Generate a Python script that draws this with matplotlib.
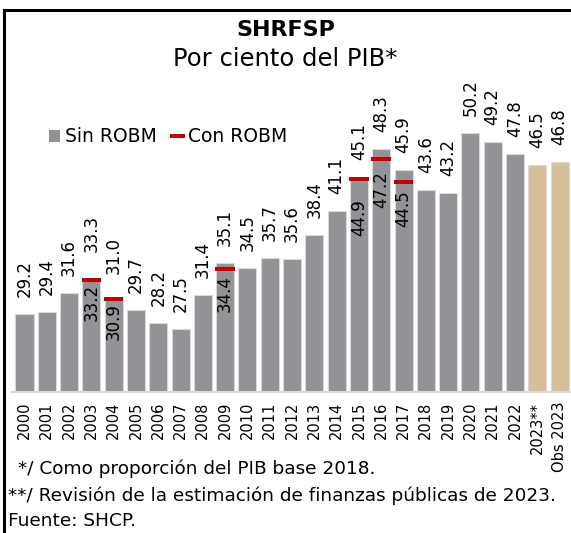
import matplotlib.pyplot as plt
from matplotlib.lines import Line2D
from matplotlib.patches import Patch

plt.rcParams['font.family'] = ['DejaVu Sans']

# Datos del SHRFSP (por ciento del PIB)
years = ['2000', '2001', '2002', '2003', '2004', '2005', '2006', '2007',
         '2008', '2009', '2010', '2011', '2012', '2013', '2014', '2015',
         '2016', '2017', '2018', '2019', '2020', '2021', '2022',
         '2023**', 'Obs 2023']
sin_robm = [29.2, 29.4, 31.6, 33.3, 31.0, 29.7, 28.2, 27.5, 31.4, 35.1,
            34.5, 35.7, 35.6, 38.4, 41.1, 45.1, 48.3, 45.9, 43.6, 43.2,
            50.2, 49.2, 47.8, 46.5, 46.8]
robm_years = ['2003', '2004', '2009', '2015', '2016', '2017']
con_robm = [33.2, 30.9, 34.4, 44.9, 47.2, 44.5]
estimate_years = ['2023**', 'Obs 2023']

GREY = '#939297'
TAN = '#d5c09b'
RED = '#c00000'
PX = 72 / 100  # one pixel in points

fig = plt.figure(figsize=(5.71, 5.33), dpi=100)
ax = fig.add_axes([12 / 571, 141 / 533, 559 / 571, 332 / 533])

x = list(range(len(years)))
colors = [TAN if y in estimate_years else GREY for y in years]
ax.bar(x, sin_robm, width=0.81, color=colors, edgecolor='#d9d9d9',
       linewidth=0.8, zorder=2)

ymin = 20.15
ax.set_ylim(ymin, ymin + 332 / 8.62)
ax.set_xlim(-0.56, 24.51)

# extra lift for a couple of labels that sit higher
extra = {'2003': 10, '2004': 7}
for i, (yr, v) in enumerate(zip(years, sin_robm)):
    ax.annotate(f'{v:.1f}', (i, v), xytext=(0, (17 + extra.get(yr, 0)) * PX),
                textcoords='offset points', rotation=90, ha='center',
                va='bottom', fontsize=12, color='black')

# con ROBM markers and their labels inside the bars
inner_gap = [2, 2, 4, 19, 10, 6]
for yr, v, gap in zip(robm_years, con_robm, inner_gap):
    i = years.index(yr)
    ax.hlines(v, i - 0.44, i + 0.44, color=RED, linewidth=2.9, zorder=3)
    ax.annotate(f'{v:.1f}', (i, v), xytext=(0, -(gap + 2) * PX),
                textcoords='offset points', rotation=90, ha='center',
                va='top', fontsize=12, color='black', zorder=4)

ax.set_xticks(x, years, rotation=90, fontsize=10.5)
ax.tick_params(axis='x', length=0, pad=7)
ax.set_yticks([])
for side in ['left', 'right', 'top']:
    ax.spines[side].set_visible(False)
ax.spines['bottom'].set_color('#d9d9d9')
ax.spines['bottom'].set_linewidth(1.5)

handles = [Patch(facecolor=GREY, edgecolor='none', label='Sin ROBM'),
           Line2D([], [], color=RED, linewidth=2.9, label='Con ROBM')]
fig.legend(handles=handles, loc='center left',
           bbox_to_anchor=(40 / 571, 1 - 137 / 533), ncol=2, frameon=False,
           fontsize=13.5, handlelength=0.55, handleheight=0.55,
           handletextpad=0.3, columnspacing=0.8, borderpad=0)

fig.text(0.5, 1 - 30 / 533, 'SHRFSP', ha='center', va='center',
         fontsize=16, fontweight='bold')
fig.text(0.5, 1 - 59 / 533, 'Por ciento del PIB*', ha='center',
         va='center', fontsize=17.5)

fig.text(18 / 571, 1 - 469 / 533, '*/ Como proporción del PIB base 2018.',
         ha='left', va='center', fontsize=13.3)
fig.text(8 / 571, 1 - 496 / 533,
         '**/ Revisión de la estimación de finanzas públicas de 2023.',
         ha='left', va='center', fontsize=13.3)
fig.text(8 / 571, 1 - 521 / 533, 'Fuente: SHCP.', ha='left', va='center',
         fontsize=13.3)

# marco del recuadro
fig.add_artist(Line2D([4 / 571, 4 / 571], [0, 1 - 10 / 533],
                      transform=fig.transFigure, color='black', linewidth=2.2))
fig.add_artist(Line2D([4 / 571, 1], [1 - 10 / 533, 1 - 10 / 533],
                      transform=fig.transFigure, color='black', linewidth=2.2))

fig.savefig('out.png', dpi=100)
